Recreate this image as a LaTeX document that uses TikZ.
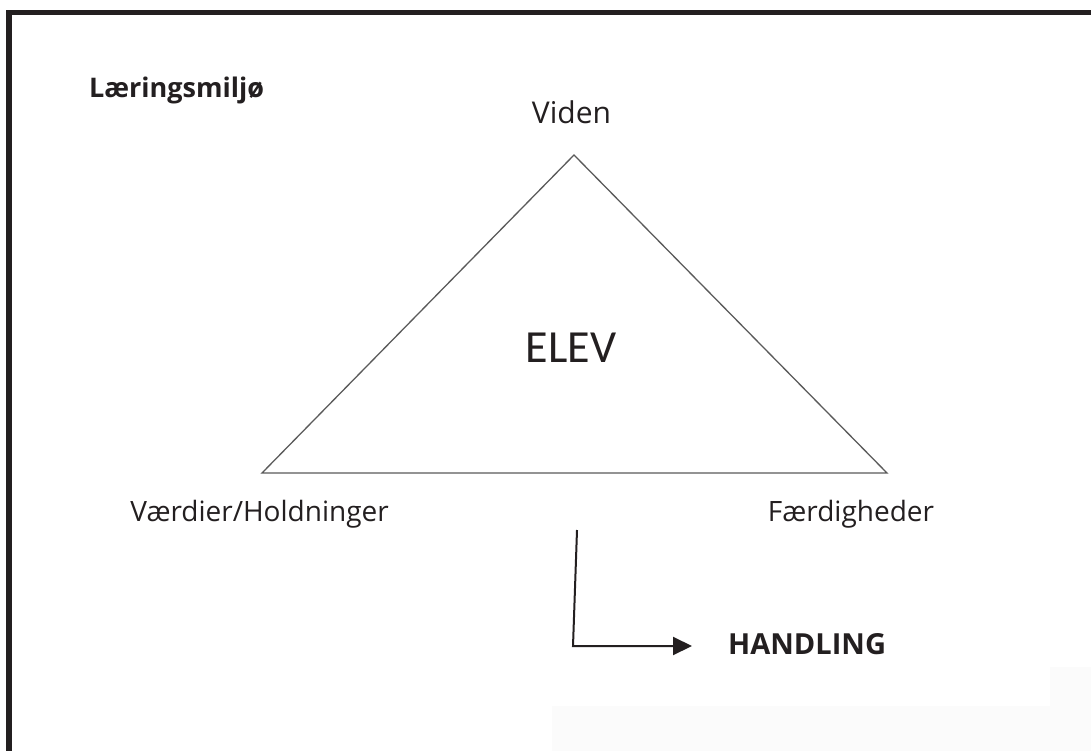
\documentclass[tikz,border=0pt]{standalone}
\usepackage{fontspec}
\setmainfont{Open Sans}
\newfontfamily\elevfont{Carlito}
\usetikzlibrary{arrows.meta}
\definecolor{ink}{HTML}{231F20}
\definecolor{triline}{HTML}{5A5A5A}
\tikzset{
  lbl/.style={inner sep=0pt, text=ink, font=\fontsize{30}{36}\selectfont},
  cornerlbl/.style={inner sep=0pt, text=ink, font=\fontsize{28}{34}\selectfont},
  boldlbl/.style={inner sep=0pt, text=ink, font=\bfseries\fontsize{27}{32}\selectfont},
  frame/.style={draw=ink, line width=5.5pt},
  triedge/.style={draw=triline, line width=1.3pt, line join=miter},
  flow/.style={draw=ink, line width=2pt, -{Triangle[length=19pt,width=18pt]}}
}
\begin{document}
\begin{tikzpicture}[x=1pt,y=-1pt]
\useasboundingbox (0,0) rectangle (1091,751);
\fill[white] (0,0) rectangle (1091,751);
% faint lighter area bottom right
\fill[black!1.5] (552,706) -- (1050,706) -- (1050,667) -- (1091,667) -- (1091,751) -- (552,751) -- cycle;
% frame
\draw[frame] (9,760) -- (9,12.5) -- (1100,12.5);
% triangle
\coordinate (top) at (574,155);
\coordinate (bl) at (262,473);
\coordinate (br) at (887,473);
\draw[triedge] (top) -- (br) -- (bl) -- cycle;
% labels
\node[boldlbl, anchor=base west] (title) at (89,98) {Læringsmiljø};
\node[lbl, anchor=base] (viden) at (571.5,124) {Viden};
\node[inner sep=0pt, text=ink, font=\elevfont\fontsize{46}{50}\selectfont, anchor=base] (elev) at (571,362) {ELEV};
\node[cornerlbl, anchor=base east] (vh) at (389,521) {Værdier/Holdninger};
\node[cornerlbl, anchor=base] (fd) at (851,521) {Færdigheder};
\node[boldlbl, font=\bfseries\fontsize{29}{34}\selectfont, anchor=base west] (handling) at (728,654) {HANDLING};
% arrow
\coordinate (astart) at (577,530);
\coordinate (acorner) at (573,646);
\coordinate (aend) at (692,646);
\draw[flow] (astart) -- (acorner) -- (aend);
\end{tikzpicture}
\end{document}
